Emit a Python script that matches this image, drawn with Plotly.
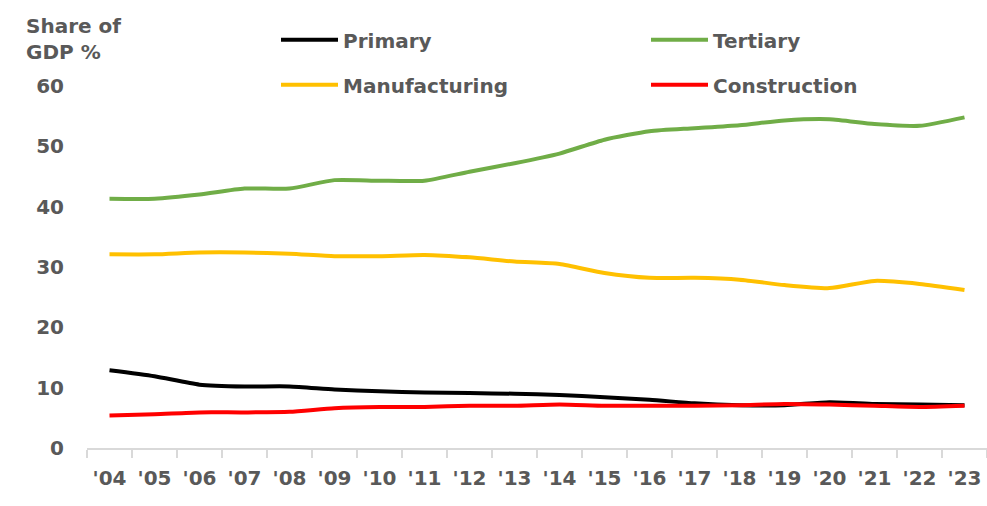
import plotly.graph_objects as go

# Sector shares of GDP, 2004-2023
years = ["'04", "'05", "'06", "'07", "'08", "'09", "'10", "'11", "'12", "'13",
         "'14", "'15", "'16", "'17", "'18", "'19", "'20", "'21", "'22", "'23"]

primary = [12.9, 11.9, 10.5, 10.2, 10.2, 9.7, 9.4, 9.2, 9.1, 9.0,
           8.8, 8.4, 8.0, 7.4, 7.1, 7.1, 7.6, 7.3, 7.2, 7.1]
tertiary = [41.3, 41.3, 42.0, 43.0, 43.0, 44.4, 44.3, 44.3, 45.8, 47.2,
            48.8, 51.1, 52.5, 53.0, 53.5, 54.3, 54.5, 53.7, 53.4, 54.8]
manufacturing = [32.1, 32.1, 32.4, 32.4, 32.2, 31.8, 31.8, 32.0, 31.6, 30.9,
                 30.5, 29.0, 28.2, 28.2, 27.9, 27.0, 26.5, 27.7, 27.2, 26.2]
construction = [5.4, 5.6, 5.9, 5.9, 6.0, 6.6, 6.8, 6.8, 7.0, 7.0,
                7.2, 7.0, 7.0, 7.0, 7.1, 7.3, 7.2, 7.0, 6.8, 7.0]

y_ticks = [0, 10, 20, 30, 40, 50, 60]

TEXT = "#595959"
FONT = dict(family="DejaVu Sans", size=20, color=TEXT, weight="bold")

series = [
    ("Primary", primary, "#000000", "legend", 1),
    ("Manufacturing", manufacturing, "#FFC000", "legend", 2),
    ("Tertiary", tertiary, "#70AD47", "legend2", 1),
    ("Construction", construction, "#FF0000", "legend2", 2),
]

fig = go.Figure()
for name, vals, color, leg, rank in series:
    fig.add_trace(go.Scatter(
        x=years, y=vals, name=name, mode="lines",
        line=dict(color=color, width=4, shape="spline", smoothing=0.6),
        legend=leg, legendgroup=name, legendrank=rank,
    ))

legend_common = dict(
    orientation="v", font=FONT, bgcolor="rgba(0,0,0,0)",
    itemwidth=57, tracegroupgap=16, xanchor="left", yanchor="top",
    itemclick=False,
)

legend_y = 1.19 - 3 / 362

fig.update_layout(
    width=987, height=506,
    margin=dict(l=87, r=0, t=86, b=58),
    paper_bgcolor="white", plot_bgcolor="white",
    font=FONT,
    showlegend=True,
    legend=dict(x=(276 - 87) / 900, y=legend_y, **legend_common),
    legend2=dict(x=(646 - 87) / 900, y=legend_y, **legend_common),
    xaxis=dict(
        type="category", range=[-0.5, 19.5],
        showline=True, linecolor="#D9D9D9", linewidth=2,
        ticks="outside", tickson="boundaries", ticklen=8,
        tickcolor="#D9D9D9", tickwidth=2,
        showgrid=False, zeroline=False,
        tickfont=FONT, ticklabelstandoff=11,
    ),
    yaxis=dict(
        range=[0, 60], tickvals=y_ticks,
        showline=False, showgrid=False, zeroline=False,
        ticks="", tickfont=FONT, ticklabelstandoff=22,
    ),
    annotations=[
        dict(text="Share of<br>GDP %", xref="paper", yref="paper",
             x=-(87 - 24) / 900, y=1.0 + (86 - 12) / 362,
             xanchor="left", yanchor="top", align="left",
             showarrow=False, font=FONT),
    ],
)

fig.write_html("out.html")
